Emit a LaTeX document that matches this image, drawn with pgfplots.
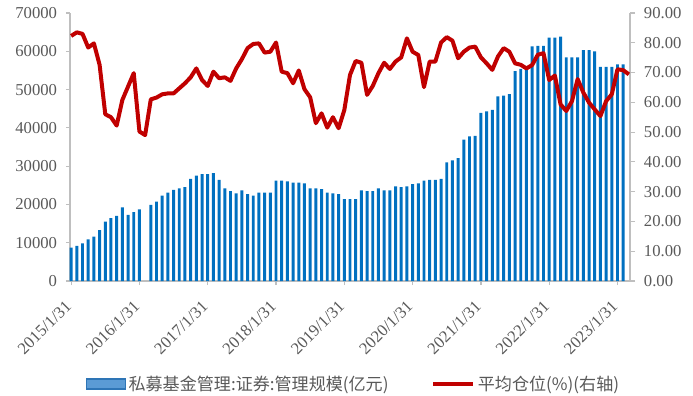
\documentclass[border=0pt]{standalone}
\usepackage{pgfplots}
\pgfplotsset{compat=1.18}
\usepackage{fontspec}
\setmainfont{Liberation Serif}
\newfontfamily\cjk{Noto Sans CJK SC}
\definecolor{barblue}{HTML}{0070C0}
\definecolor{legblue}{HTML}{5B9BD5}
\definecolor{legedge}{HTML}{2E75B6}
\definecolor{linered}{HTML}{C00000}
\definecolor{axgray}{HTML}{BFBFBF}
\definecolor{txtgray}{HTML}{595959}

\pgfplotstableread{
i v
0 8700
1 9150
2 9850
3 10900
4 11600
5 13300
6 15500
7 16400
8 17000
9 19200
10 17300
11 18000
12 18700
14 19900
15 20700
16 22300
17 23100
18 23800
19 24200
20 24500
21 26700
22 27500
23 27900
24 27900
25 28200
26 26400
27 24200
28 23500
29 22900
30 23700
31 22700
32 22300
33 23100
34 23100
35 23100
36 26200
37 26200
38 26000
39 25700
40 25700
41 25500
42 24200
43 24200
44 24000
45 23100
46 22900
47 22700
48 21400
49 21400
50 21400
51 23700
52 23500
53 23500
54 24200
55 23700
56 23700
57 24700
58 24500
59 24700
60 25300
61 25500
62 26200
63 26400
64 26400
65 26700
66 31000
67 31500
68 32100
69 36900
70 37800
71 37900
72 43900
73 44300
74 44700
75 48200
76 48400
77 48800
78 54800
79 55400
80 55200
81 61300
82 61400
83 61400
84 63600
85 63600
86 63800
87 58400
88 58400
89 58400
90 60300
91 60300
92 60000
93 55900
94 55900
95 55900
96 56600
97 56600
}\bartable

\pgfplotstableread{
i p
0 82.3
1 83.5
2 83.0
3 78.4
4 79.8
5 72.6
6 56.0
7 55.0
8 52.2
9 60.8
10 65.3
11 69.8
12 50.2
13 49.0
14 61.0
15 61.6
16 62.7
17 63.0
18 63.0
19 64.7
20 66.4
21 68.4
22 71.4
23 67.5
24 65.5
25 70.3
26 68.1
27 68.4
28 67.2
29 71.4
30 74.5
31 78.2
32 79.6
33 79.8
34 76.7
35 77.0
36 80.1
37 70.3
38 69.8
39 66.4
40 70.7
41 64.4
42 61.7
43 53.0
44 56.3
45 51.5
46 55.0
47 51.3
48 57.4
49 69.2
50 73.9
51 73.3
52 62.5
53 65.5
54 69.8
55 73.3
56 71.2
57 73.7
58 75.1
59 81.5
60 77.0
61 75.9
62 65.1
63 73.7
64 73.7
65 80.1
66 81.9
67 80.7
68 74.8
69 77.0
70 78.4
71 78.7
72 75.1
73 73.1
74 70.9
75 75.4
76 78.2
77 77.0
78 73.1
79 72.6
80 71.4
81 72.5
82 76.0
83 76.5
84 67.5
85 69.0
86 59.3
87 57.1
88 60.4
89 67.8
90 63.3
91 59.9
92 57.6
93 55.4
94 60.4
95 62.7
96 71.1
97 70.8
98 69.4
}\linetable

\begin{document}
\begin{tikzpicture}
\useasboundingbox (-52.5pt,-86.25pt) rectangle (467.25pt,210.75pt);
\begin{axis}[
  at={(0,0)}, anchor=south west,
  scale only axis, width=420pt, height=201pt,
  xmin=-0.2, xmax=98.2, ymin=0, ymax=70000,
  axis x line*=bottom, axis y line*=left,
  axis line style={axgray, line width=0.9pt},
  tick align=outside, major tick length=3pt,
  tick style={axgray, line width=0.9pt},
  scaled y ticks=false,
  xtick={0,12,24,36,48,60,72,84,96},
  xticklabels={2015/1/31,2016/1/31,2017/1/31,2018/1/31,2019/1/31,2020/1/31,2021/1/31,2022/1/31,2023/1/31},
  xticklabel style={xshift=-2pt, yshift=-14pt, rotate=45, anchor=east, inner sep=0pt, font=\fontsize{12.5}{13}\selectfont, text=txtgray},
  ytick={0,10000,20000,30000,40000,50000,60000,70000},
  yticklabels={0,10000,20000,30000,40000,50000,60000,70000},
  yticklabel style={anchor=east, inner sep=0pt, xshift=-6.5pt, font=\fontsize{12.5}{13}\selectfont, text=txtgray},
  clip=false,
]
\addplot[ybar, bar width=0.52, fill=barblue, draw=none] table[x=i, y=v] {\bartable};
\end{axis}
\begin{axis}[
  at={(0,0)}, anchor=south west,
  scale only axis, width=420pt, height=201pt,
  xmin=-0.2, xmax=98.2, ymin=0, ymax=90,
  hide x axis, axis y line*=right,
  axis line style={axgray, line width=0.9pt},
  tick align=outside, major tick length=3.75pt,
  tick style={axgray, line width=0.9pt},
  scaled y ticks=false,
  ytick={0,10,20,30,40,50,60,70,80,90},
  yticklabels={0.00,10.00,20.00,30.00,40.00,50.00,60.00,70.00,80.00,90.00},
  yticklabel style={anchor=west, inner sep=0pt, xshift=6.5pt, font=\fontsize{12.5}{13}\selectfont, text=txtgray},
  legend style={at={(0.507,-0.384)}, anchor=center, draw=none, fill=none,
    legend columns=2, font=\cjk\fontsize{12.8}{14}\selectfont, text=txtgray,
    /tikz/every even column/.append style={column sep=30pt}},
  clip=false,
]
\addlegendimage{legend image code/.code={\draw[fill=legblue, draw=legedge, line width=0.9pt] (0pt,-3.75pt) rectangle (29pt,3.75pt);}}
\addlegendentry{私募基金管理:证券:管理规模(亿元)}
\addplot[linered, line width=3pt, line join=round, mark=none,
  legend image code/.code={\draw[linered, line width=3pt] (0pt,0pt) -- (30pt,0pt);}]
  table[x=i, y=p] {\linetable};
\addlegendentry{平均仓位(\%)(右轴)}
\end{axis}
\end{tikzpicture}
\end{document}
